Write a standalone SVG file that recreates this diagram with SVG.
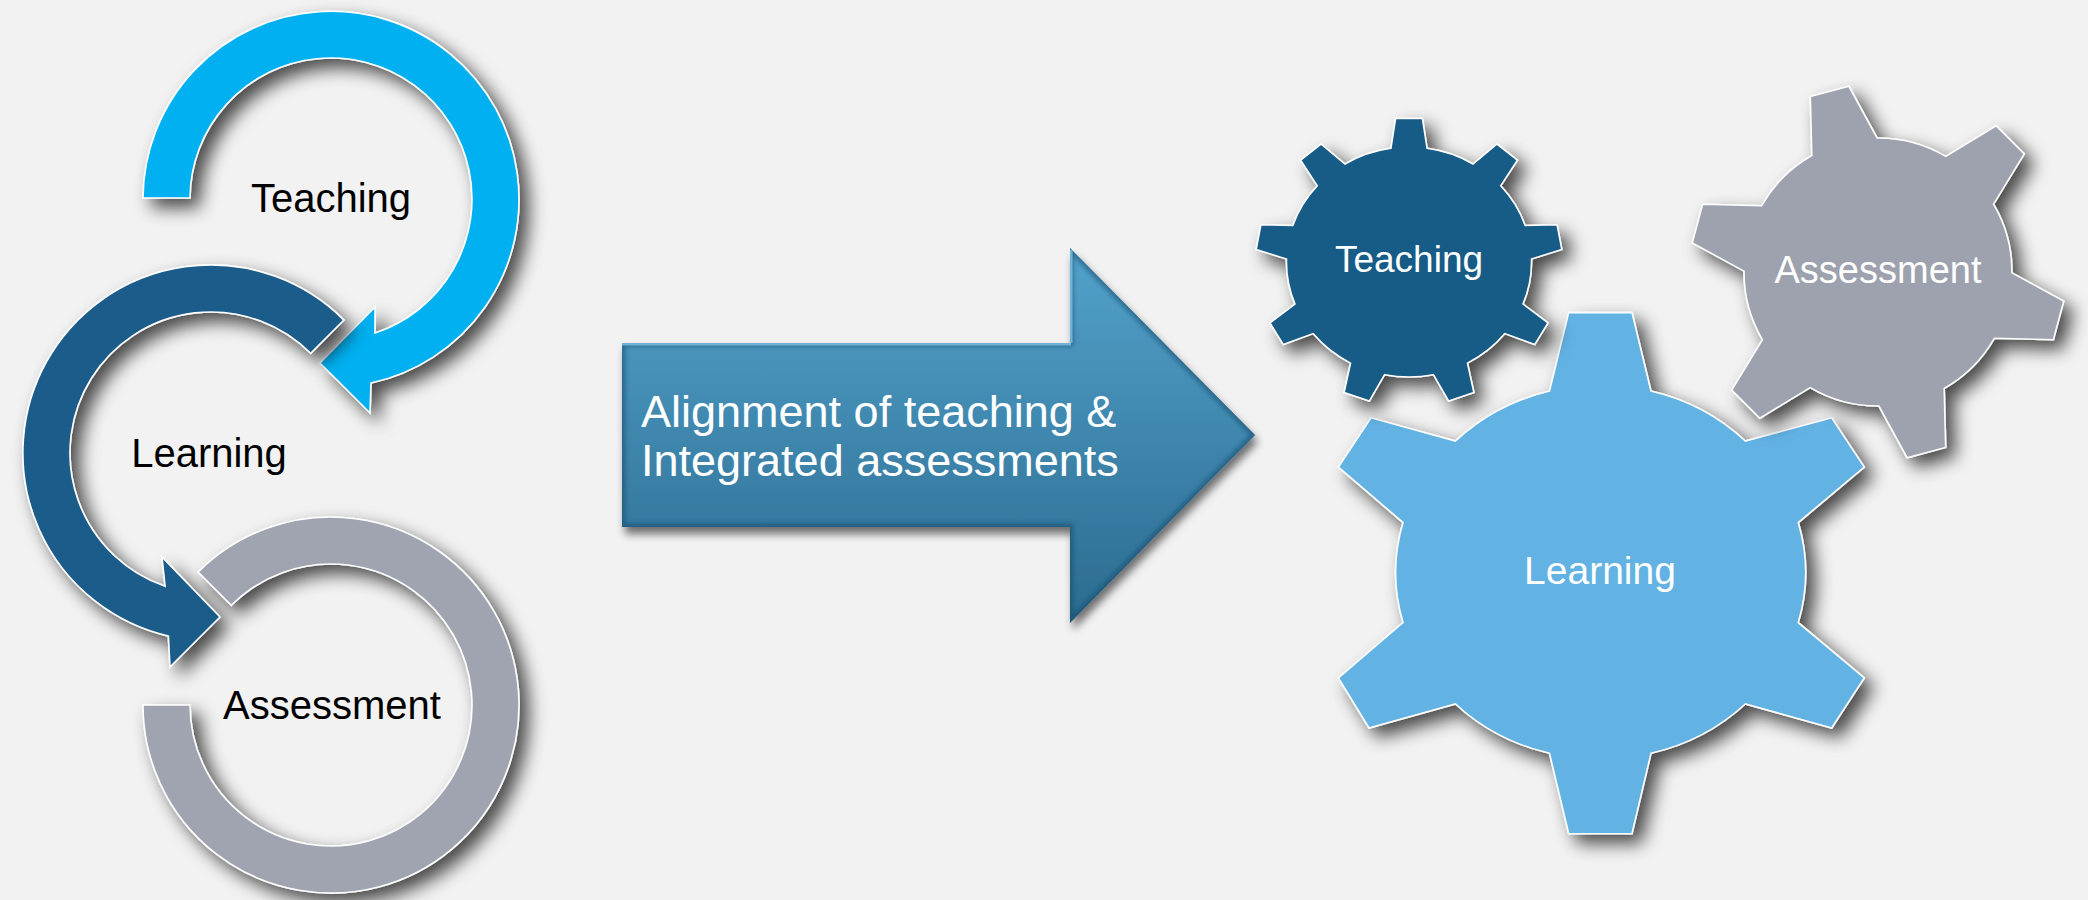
<svg xmlns="http://www.w3.org/2000/svg" width="2088" height="900" viewBox="0 0 2088 900">
<defs>
<filter id="shadow" x="-25%" y="-25%" width="160%" height="160%">
<feDropShadow dx="9" dy="9" stdDeviation="9" flood-color="#000" flood-opacity="0.7"/>
</filter>
<filter id="ashadow" x="-10%" y="-10%" width="130%" height="130%">
<feDropShadow dx="3" dy="7" stdDeviation="4" flood-color="#000" flood-opacity="0.55"/>
</filter>
<filter id="soft" x="-5%" y="-5%" width="110%" height="110%">
<feGaussianBlur stdDeviation="2"/>
</filter>
<clipPath id="arrowClip">
<path d="M622 343 L1070 343 L1070 248 L1255 435 L1070 623 L1070 527 L622 527 Z"/>
</clipPath>
<linearGradient id="arrowGrad" x1="0" y1="248" x2="0" y2="623" gradientUnits="userSpaceOnUse">
<stop offset="0" stop-color="#53a2cb"/>
<stop offset="1" stop-color="#2b6b90"/>
</linearGradient>
</defs>
<style>
.shape{stroke:#ffffff;stroke-width:1.6;stroke-linejoin:miter}
.dark{font-family:"Liberation Sans",Arial,sans-serif;font-size:40px;text-anchor:middle;fill:#000}
.light{font-family:"Liberation Sans",Arial,sans-serif;text-anchor:middle;fill:#ffffff}
.big{font-family:"Liberation Sans",Arial,sans-serif;font-size:45px;fill:#ffffff}
</style>
<rect width="2088" height="900" fill="#f2f2f2"/>

<g id="teaching-cycle">
<path class="shape" filter="url(#shadow)" fill="#00b0f0" d="M143 198 A188 188 0 1 1 371 383 L370 413 L320 363 L375 307 L375 333 A141 141 0 1 0 190 198 Z"/>
<text class="dark" x="331" y="212">Teaching</text>
</g>

<g id="learning-cycle">
<path class="shape" filter="url(#shadow)" fill="#1a5c8a" d="M343.9 320.1 A188 188 0 1 0 168.4 636.1 L170 667 L220 617 L162 557 L165.1 586.3 A141 141 0 1 1 310.7 353.3 Z"/>
<text class="dark" x="209" y="467">Learning</text>
</g>

<g id="assessment-cycle">
<path class="shape" filter="url(#shadow)" fill="#9fa4b0" d="M198.1 572.1 A188 188 0 1 1 143 705 L190 705 A141 141 0 1 0 231.3 605.3 Z"/>
<text class="dark" x="332" y="719">Assessment</text>
</g>

<g id="connectors">
<path filter="url(#ashadow)" fill="url(#arrowGrad)" d="M622 343 L1070 343 L1070 248 L1255 435 L1070 623 L1070 527 L622 527 Z"/>
<g clip-path="url(#arrowClip)">
<path filter="url(#soft)" fill="none" stroke="#18496a" stroke-width="7" stroke-opacity="0.55" d="M622 343 L1070 343 L1070 248 L1255 435 L1070 623 L1070 527 L622 527 Z"/>
<path fill="none" stroke="#7fc3e6" stroke-width="3" stroke-opacity="0.8" d="M622 344 L1071 344 M1071 250 L1071 343"/>
</g>
<text class="big" x="641" y="427">Alignment of teaching &amp;</text>
<text class="big" x="641" y="476">Integrated assessments</text>
</g>

<g id="learning-gear">
<path class="shape" filter="url(#shadow)" fill="#62b2e4" d="M1549.5 391 L1568.7 312.6 L1632 312.6 L1651 391 A203 188 0 0 1 1745.3 441 L1831.7 417.8 L1864.3 467 L1798.3 522.6 A203 188 0 0 1 1798.3 622.6 L1864.3 678 L1831.7 728 L1745.3 704 A203 188 0 0 1 1651 753.3 L1632 833.7 L1568.7 833.7 L1549.5 753.3 A203 188 0 0 1 1455.5 704 L1369 728 L1338.4 678 L1403 622.6 A203 188 0 0 1 1403 522.6 L1338.4 467 L1371 417.8 L1455.5 441 A203 188 0 0 1 1549.5 391 Z"/>
<text class="light" x="1600" y="584" font-size="39">Learning</text>
</g>

<g id="teaching-gear">
<path class="shape" filter="url(#shadow)" fill="#165b87" d="M1390.9 148.3 L1395.6 118.5 L1422.4 118.5 L1427.1 148.3 A122.5 115 0 0 1 1473 164 L1497 144 L1517.4 160.2 L1500.7 185.8 A122.5 115 0 0 1 1525.2 225.5 L1557.1 224.7 L1561.8 249.4 L1531.5 259 A122.5 115 0 0 1 1523 304.1 L1548 322.9 L1534.7 344.6 L1504.9 333.6 A122.5 115 0 0 1 1467.5 363.1 L1473.9 392.5 L1448.7 401.1 L1433.4 374.7 A122.5 115 0 0 1 1384.6 374.7 L1369.3 401.1 L1344.1 392.5 L1350.5 363.1 A122.5 115 0 0 1 1313.1 333.6 L1283.3 344.6 L1270 322.9 L1295 304.1 A122.5 115 0 0 1 1286.5 259 L1256.2 249.4 L1260.9 224.7 L1292.8 225.5 A122.5 115 0 0 1 1317.3 185.8 L1300.6 160.2 L1321 144 L1345 164 A122.5 115 0 0 1 1390.9 148.3 Z"/>
<text class="light" x="1409" y="272" font-size="37">Teaching</text>
</g>

<g id="assessment-gear">
<path class="shape" filter="url(#shadow)" fill="#9da2ae" d="M1811.8 155.5 L1810.3 96.6 L1848.9 86.3 L1877.1 138 A134 134 0 0 1 1945.8 156.4 L1996.1 125.7 L2024.3 153.9 L1993.6 204.2 A134 134 0 0 1 2012 272.9 L2063.7 301.1 L2053.4 339.7 L1994.5 338.2 A134 134 0 0 1 1944.2 388.5 L1945.7 447.4 L1907.1 457.7 L1878.9 406 A134 134 0 0 1 1810.2 387.6 L1759.9 418.3 L1731.7 390.1 L1762.4 339.8 A134 134 0 0 1 1744 271.1 L1692.3 242.9 L1702.6 204.3 L1761.5 205.8 A134 134 0 0 1 1811.8 155.5 Z"/>
<text class="light" x="1878" y="283" font-size="38">Assessment</text>
</g>
</svg>
